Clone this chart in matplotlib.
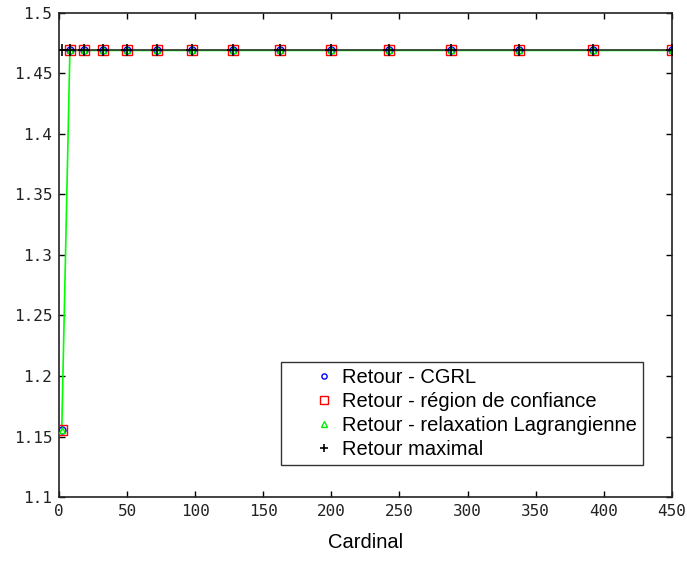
import matplotlib
matplotlib.use("Agg")
import matplotlib.pyplot as plt
from matplotlib.lines import Line2D
from matplotlib.legend_handler import HandlerLine2D

cardinal = [2, 8, 18, 32, 50, 72, 98, 128, 162, 200, 242, 288, 338, 392, 450]
retour_cgrl = [1.155, 1.469, 1.469, 1.469, 1.469, 1.469, 1.469, 1.469,
               1.469, 1.469, 1.469, 1.469, 1.469, 1.469, 1.469]
retour_region = [1.155, 1.469, 1.469, 1.469, 1.469, 1.469, 1.469, 1.469,
                 1.469, 1.469, 1.469, 1.469, 1.469, 1.469, 1.469]
retour_lagrange = [1.155, 1.469, 1.469, 1.469, 1.469, 1.469, 1.469, 1.469,
                   1.469, 1.469, 1.469, 1.469, 1.469, 1.469, 1.469]
retour_max = [1.469] * 15

labels = ["Retour - CGRL", "Retour - région de confiance",
          "Retour - relaxation Lagrangienne", "Retour maximal"]

fig = plt.figure(figsize=(6.87, 5.61), dpi=100)
ax = fig.add_axes([0.0859, 0.114, 0.8921, 0.863])

# lines (no legend entry)
ax.plot(cardinal, retour_lagrange, "-", color="#00ff00", linewidth=1.2, zorder=2)
ax.plot([0] + cardinal, [retour_max[0]] + retour_max, "-", color="#333333", linewidth=1.2, zorder=2)

ax.plot(cardinal, retour_cgrl, "o", color="blue", mfc="none", ms=5, mew=1, label=labels[0], zorder=3)
ax.plot(cardinal, retour_region, "s", color="red", mfc="none", ms=7.5, mew=1, label=labels[1], zorder=3)
ax.plot(cardinal, retour_lagrange, "^", color="#00ee00", mfc="none", ms=5, mew=1, label=labels[2], zorder=4)
ax.plot(cardinal, retour_max, "+", color="black", ms=8, mew=1.2, label=labels[3], zorder=5)

ax.set_xlim(0, 450)
ax.set_ylim(1.1, 1.5)
ax.set_xticks(range(0, 451, 50))
ax.set_yticks([1.1, 1.15, 1.2, 1.25, 1.3, 1.35, 1.4, 1.45, 1.5])
ax.set_yticklabels(["1.1", "1.15", "1.2", "1.25", "1.3", "1.35", "1.4", "1.45", "1.5"])
ax.tick_params(direction="in", top=True, right=True, length=4, width=1,
               labelsize=11.5, pad=5)
for lab in ax.get_xticklabels() + ax.get_yticklabels():
    lab.set_family("DejaVu Sans Mono")
    lab.set_color("#222222")
for sp in ax.spines.values():
    sp.set_linewidth(1.2)
    sp.set_color("#222222")

ax.set_xlabel("Cardinal", fontsize=14.5, family="Liberation Sans", labelpad=10)

leg = ax.legend(loc="lower right", bbox_to_anchor=(0.953, 0.066),
                prop={"family": "Liberation Sans", "size": 14.5},
                frameon=True, fancybox=False, edgecolor="black",
                borderpad=0.3, labelspacing=0.25, handlelength=2.45,
                handletextpad=0.3, borderaxespad=0, markerscale=0.75,
                handler_map={Line2D: HandlerLine2D(xpad=1.25)})
leg.get_frame().set_linewidth(1)

fig.savefig("out.png", dpi=100)
